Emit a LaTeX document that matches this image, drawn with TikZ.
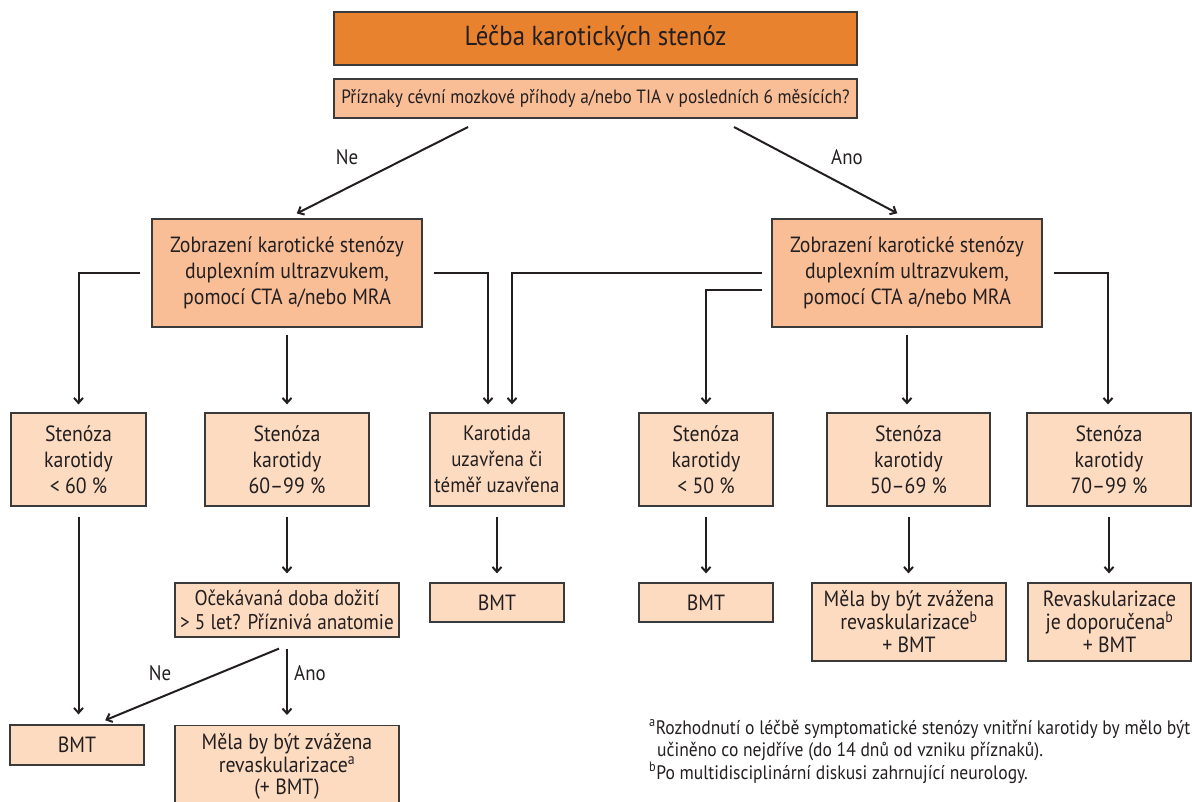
\documentclass[tikz,border=0pt]{standalone}
\usepackage{fontspec}
\setmainfont{PT Sans}[FakeStretch=0.9]
\usetikzlibrary{arrows.meta}

\definecolor{headfill}{HTML}{E8822F}
\definecolor{midfill}{HTML}{F9BE96}
\definecolor{lightfill}{HTML}{FDDBC1}
\definecolor{edgecol}{HTML}{3A3A3A}
\definecolor{inkcol}{HTML}{231F20}

\newcommand{\notefont}{\fontsize{19.5}{22}\selectfont}

\begin{document}
\begin{tikzpicture}[x=1pt,y=-1pt,
  every node/.style={text=inkcol},
  box/.style={draw=edgecol, line width=1.2pt, inner sep=0pt, align=center,
    font=\fontsize{22}{26}\selectfont},
  headbox/.style={box, fill=headfill, font=\fontsize{27.5}{32}\selectfont},
  midbox/.style={box, fill=midfill},
  lightbox/.style={box, fill=lightfill},
  arr/.style={draw=inkcol, line width=2pt, -{Straight Barb[length=5pt,width=9pt]}},
  elbow/.style={arr},
  lab/.style={font=\fontsize{21}{24}\selectfont, inner sep=0pt},
  fnote/.style={inner sep=0pt, anchor=west, align=left}]

\useasboundingbox (0,0) rectangle (1192,801);
\clip (0,0) rectangle (1192,801);

% header and first question
\node[headbox, minimum width=523pt, minimum height=53pt] (title) at (595.5,38.5) {Léčba karotických stenóz};
\node[midbox, minimum width=523pt, minimum height=39pt, font=\fontsize{19.2}{22}\selectfont] (q) at (595.5,98.5)
  {Příznaky cévní mozkové příhody a/nebo TIA v posledních 6 měsících?};

% imaging boxes
\node[midbox, minimum width=270pt, minimum height=108pt] (L) at (287,273)
  {Zobrazení karotické stenózy\\duplexním ultrazvukem,\\pomocí CTA a/nebo MRA};
\node[midbox, minimum width=270pt, minimum height=108pt] (R) at (907,273)
  {Zobrazení karotické stenózy\\duplexním ultrazvukem,\\pomocí CTA a/nebo MRA};

% degree of stenosis
\node[lightbox, minimum width=135pt, minimum height=93pt] (A) at (78.5,459.5) {Stenóza\\karotidy\\< 60 \%};
\node[lightbox, minimum width=164pt, minimum height=93pt] (B) at (287,459.5) {Stenóza\\karotidy\\60–99 \%};
\node[lightbox, minimum width=134pt, minimum height=93pt, font=\fontsize{21}{26}\selectfont] (C) at (497,459.5)
  {Karotida\\uzavřena či\\téměř uzavřena};
\node[lightbox, minimum width=134pt, minimum height=93pt] (D) at (706,459.5) {Stenóza\\karotidy\\< 50 \%};
\node[lightbox, minimum width=163pt, minimum height=93pt] (E) at (908.5,459.5) {Stenóza\\karotidy\\50–69 \%};
\node[lightbox, minimum width=164pt, minimum height=93pt] (F) at (1109,459.5) {Stenóza\\karotidy\\70–99 \%};

% outcomes
\node[lightbox, minimum width=224pt, minimum height=54pt, font=\fontsize{21.3}{24}\selectfont] (G) at (287,610)
  {Očekávaná doba dožití\\> 5 let? Příznivá anatomie};
\node[lightbox, minimum width=134pt, minimum height=39pt] (H) at (497,602.5) {BMT};
\node[lightbox, minimum width=134pt, minimum height=39pt] (I) at (706,602.5) {BMT};
\node[lightbox, minimum width=194pt, minimum height=78pt, font=\fontsize{22}{23}\selectfont] (J) at (909,622)
  {Měla by být zvážena\\revaskularizace\textsuperscript{b}\\+ BMT};
\node[lightbox, minimum width=163pt, minimum height=78pt, font=\fontsize{22}{23}\selectfont] (K) at (1109.5,622)
  {Revaskularizace\\je doporučena\textsuperscript{b}\\+ BMT};
\node[lightbox, minimum width=134pt, minimum height=40pt] (M) at (77,745) {BMT};
\node[lightbox, minimum width=224pt, minimum height=82pt, anchor=north, font=\fontsize{22}{22.5}\selectfont] (N) at (287,725)
  {Měla by být zvážena\\revaskularizace\textsuperscript{a}\\(+ BMT)};

% question branches
\coordinate (qNe) at (468,127);
\coordinate (qAno) at (734,127);
\draw[arr, shorten >=11pt] (qNe) -- (L.north);
\draw[arr, shorten >=11pt] (qAno) -- (R.north);
\node[lab] (neA) at (347,157) {Ne};
\node[lab] (anoA) at (847,157) {Ano};

% left imaging box to stenosis boxes
\draw[elbow, shorten >=8pt] ([xshift=-11pt]L.west) -| (A.north);
\draw[arr, shorten >=8pt] ([yshift=-7pt]L.south) -- (B.north);
\draw[elbow, shorten >=8pt] ([xshift=11pt]L.east) -| ([xshift=-9pt]C.north);

% right imaging box to stenosis boxes
\draw[elbow, shorten >=8pt] ([xshift=-9pt]R.west) -| ([xshift=15pt]C.north);
\draw[elbow, shorten >=8pt] ([xshift=-9pt,yshift=-17pt]R.west) -| (D.north);
\draw[arr, shorten >=8pt] ([yshift=-7pt]R.south) -- (R.south |- E.north);
\draw[elbow, shorten >=8pt] ([xshift=11pt]R.east) -| ([xshift=-1pt]F.north);

% stenosis boxes to outcomes
\draw[arr, shorten >=10pt] ([yshift=-10pt]A.south) -- (A.south |- M.north);
\draw[arr, shorten >=9pt] ([yshift=-10pt]B.south) -- (G.north);
\draw[arr, shorten >=9pt] ([yshift=-10pt]C.south) -- (H.north);
\draw[arr, shorten >=9pt] ([yshift=-10pt]D.south) -- (I.north);
\draw[arr, shorten >=9pt] ([yshift=-10pt]E.south) -- (E.south |- J.north);
\draw[arr, shorten >=9pt] ([yshift=-10pt]F.south) -- (F.south |- K.north);

% life expectancy question
\draw[arr, shorten >=11pt] ([xshift=-8pt,yshift=-11pt]G.south) -- ([xshift=18pt]M.north);
\draw[arr, shorten >=10pt] ([yshift=-11pt]G.south) -- (N.north);
\node[lab] (neB) at (160,673) {Ne};
\node[lab] (anoB) at (310,673) {Ano};

% footnotes
\node[fnote] (fa) at (649,729) {\notefont\textsuperscript{a}Rozhodnutí o léčbě symptomatické stenózy vnitřní karotidy by mělo být};
\node[fnote] (fa2) at (657,751) {\notefont učiněno co nejdříve (do 14 dnů od vzniku příznaků).};
\node[fnote] (fb) at (649,773) {\notefont\textsuperscript{b}Po multidisciplinární diskusi zahrnující neurology.};
\end{tikzpicture}
\end{document}
